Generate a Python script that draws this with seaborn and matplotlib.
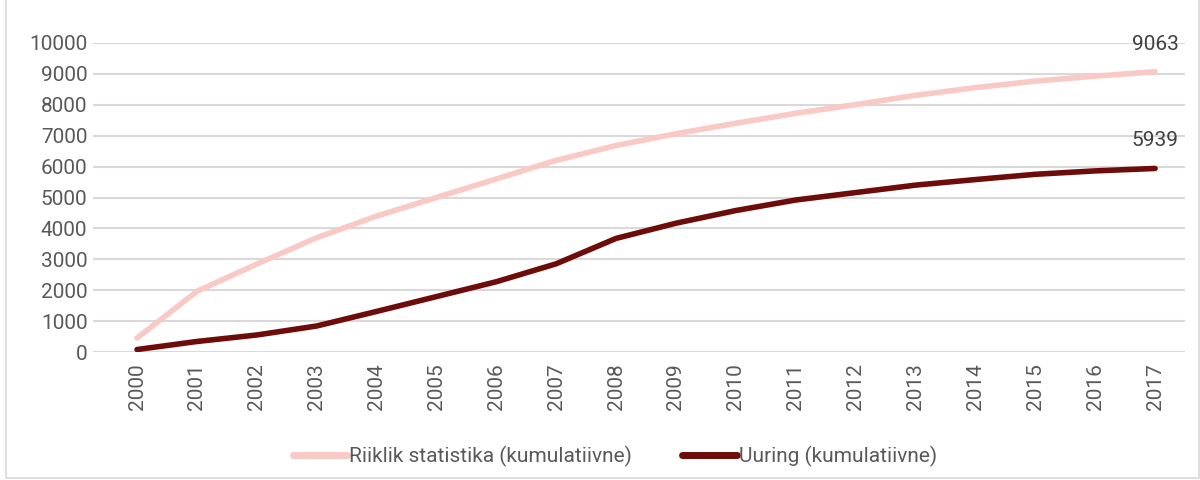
import matplotlib
matplotlib.use("Agg")
import matplotlib.pyplot as plt
import seaborn as sns
import pandas as pd
import numpy as np
from matplotlib.patches import Rectangle
from matplotlib import font_manager

years = [str(y) for y in range(2000, 2018)]
riiklik = [460, 1970, 2850, 3700, 4400, 5000, 5600, 6200, 6680, 7060, 7400, 7720,
           8000, 8300, 8550, 8760, 8920, 9063]
uuring = [90, 350, 560, 850, 1320, 1800, 2280, 2860, 3680, 4170, 4580, 4920,
          5160, 5400, 5580, 5750, 5860, 5939]
series_names = ["Riiklik statistika (kumulatiivne)", "Uuring (kumulatiivne)"]
colors = ["#F9C9C5", "#6E0C0A"]
yticks = list(range(0, 10001, 1000))

sns.set_theme(style="white")
avail = {f.name for f in font_manager.fontManager.ttflist}
fam = "Liberation Sans Narrow" if "Liberation Sans Narrow" in avail else "Roboto"
plt.rcParams["font.family"] = [fam, "DejaVu Sans"]
fs = 17 if fam == "Liberation Sans Narrow" else 15
txt = "#595959"

df = pd.DataFrame({
    "year": years * 2,
    "value": riiklik + uuring,
    "series": [series_names[0]] * len(years) + [series_names[1]] * len(years),
})

fig = plt.figure(figsize=(12, 4.8), dpi=100)
ax = fig.add_axes([0.0775, 0.266, 0.91, 0.645])
sns.lineplot(data=df, x="year", y="value", hue="series", palette=colors,
             linewidth=4, ax=ax, sort=False, solid_capstyle="round")

ax.set_xlim(-0.735, 17.5)
ax.set_ylim(0, 10000)
ax.set_yticks(yticks)
ax.set_yticklabels([str(v) for v in yticks])
ax.yaxis.grid(True, color="#D9D9D9", linewidth=1.5)
ax.xaxis.grid(False)
for s in ax.spines.values():
    s.set_visible(False)
ax.tick_params(axis="y", length=0, pad=4, labelsize=fs, labelcolor=txt)
ax.tick_params(axis="x", length=0, pad=8, labelsize=fs, labelcolor=txt, rotation=90)
ax.set_xlabel("")
ax.set_ylabel("")

for vals in (riiklik, uuring):
    ax.annotate(str(vals[-1]), xy=(len(years) - 1, vals[-1]), xytext=(0, 13),
                textcoords="offset points", ha="center", va="bottom",
                fontsize=fs, color="#404040")

handles, labels = ax.get_legend_handles_labels()
leg = ax.legend(handles, labels, loc="center", bbox_to_anchor=(0.478, -0.335),
                ncol=2, frameon=False, fontsize=fs, labelcolor=txt,
                handlelength=2.6, handletextpad=0.1, columnspacing=2.4)
for h in leg.get_lines():
    h.set_linewidth(5)

fig.patches.append(Rectangle((0.005, 0.004), 0.994, 1.2, transform=fig.transFigure,
                             fill=False, edgecolor="#D9D9D9", linewidth=1.2))

fig.savefig("out.png", dpi=100)
